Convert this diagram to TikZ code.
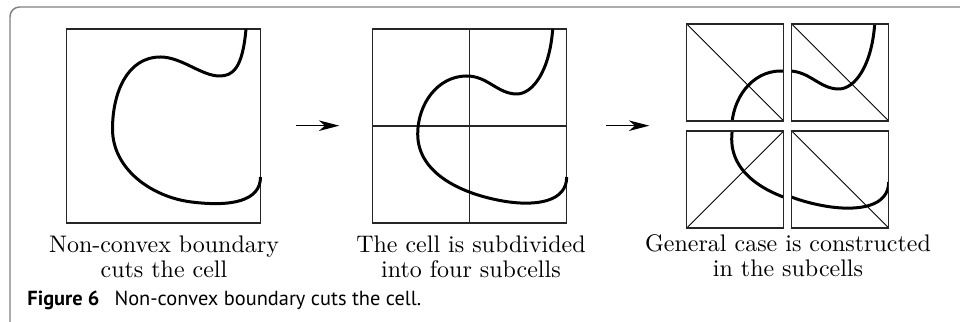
\documentclass[tikz,border=0pt]{standalone}
\usepackage{fontspec}
\usepackage{tikz}
\usetikzlibrary{arrows.meta}
\newfontfamily\capfont{PT Sans}

\tikzset{
  cellbox/.style={draw=black!85, line width=0.55pt},
  diag/.style={line width=0.4pt},
  bnd/.style={line width=1.25pt, line join=round},
  lbl/.style={anchor=north, align=center, inner sep=0pt, font=\fontsize{10}{10.4}\selectfont},
  steparrow/.style={-{Stealth[length=8.5pt,width=4.4pt,inset=2.5pt]}, line width=0.5pt},
  curveone/.pic={\draw[bnd] (179.5,0) .. controls (176,40) and (166,47) .. (153,47)
      .. controls (135,47) and (115,28) .. (94,28)
      .. controls (60,28) and (46,65) .. (46,100)
      .. controls (46,140) and (85,168) .. (125,173)
      .. controls (165,178) and (194,172) .. (194,148);},
  curvetwo/.pic={\draw[bnd] (180,0) .. controls (177,42) and (160,65) .. (144,65)
      .. controls (125,65) and (115,47) .. (94,47)
      .. controls (65,47) and (45,75) .. (45,105)
      .. controls (45,145) and (90,165) .. (130,172)
      .. controls (165,178) and (194,172) .. (194,148);}
}

\begin{document}
\begin{tikzpicture}[x=0.417pt, y=-0.417pt]
\useasboundingbox (0,0) rectangle (960,322);
\draw[black!50, line width=0.6pt, rounded corners=4pt] (10,340) -- (10,7) -- (980,7);

\draw[cellbox] (66.5,29) rectangle +(194,194);
\pic at (66.5,29) {curveone};
\node[lbl] (lblA) at (164,235.5) {Non-convex boundary\\cuts the cell};

\coordinate (arrAs) at (296,125.7);
\coordinate (arrAe) at (339.3,125.7);
\draw[steparrow] (arrAs) -- (arrAe);

\draw[cellbox] (372.7,29) rectangle +(194,194);
\draw[cellbox] (469.7,29) -- (469.7,223);
\draw[cellbox] (372.7,126) -- (566.7,126);
\pic at (372.7,29) {curvetwo};
\node[lbl] (lblB) at (471,235.5) {The cell is subdivided\\into four subcells};

\coordinate (arrBs) at (606,125.7);
\coordinate (arrBe) at (649.3,125.7);
\draw[steparrow] (arrBs) -- (arrBe);

\foreach \i/\j/\dx/\dy/\d in {0/0/-4/-5/0, 1/0/4/-5/0, 0/1/-4/5/1, 1/1/4/5/0} {
  \begin{scope}[shift={(690.7+97*\i+\dx, 29+97*\j+\dy)}]
    \begin{scope}
      \clip (0,0) rectangle (97,97);
      \pic at (-97*\i,-97*\j) {curvetwo};
    \end{scope}
    \draw[diag] (0,97*\d) -- (97,97-97*\d);
    \draw[cellbox] (0,0) rectangle (97,97);
  \end{scope}
}
\node[lbl] (lblC) at (788,234) {General case is constructed\\in the subcells};

\node[anchor=base west, inner sep=0pt, font=\capfont\fontsize{8.5}{10}\selectfont] (cap) at (27,306)
  {\textbf{Figure 6}\hspace{6.3pt}Non-convex boundary cuts the cell.};
\end{tikzpicture}
\end{document}
